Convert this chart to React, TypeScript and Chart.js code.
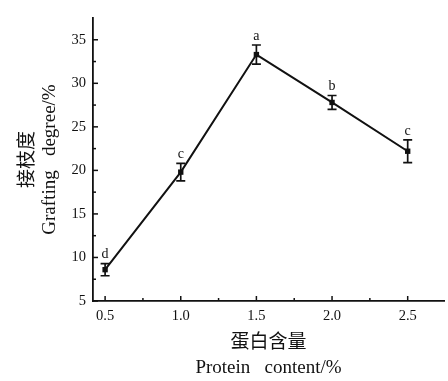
import React, { useEffect, useRef } from "react";
import { Chart, registerables } from "chart.js";

Chart.register(...registerables);

const proteinContent = [0.5, 1.0, 1.5, 2.0, 2.5];
const graftingDegree = [8.6, 19.8, 33.3, 27.8, 22.2];
const errorValues = [0.7, 1.0, 1.1, 0.8, 1.3];
const significanceLetters = ["d", "c", "a", "b", "c"];
const xTickValues = [0.5, 1.0, 1.5, 2.0, 2.5];
const yTickValues = [5, 10, 15, 20, 25, 30, 35];
const xTitleLines = ["蛋白含量", "Protein   content/%"];
const yTitleLines = ["接枝度", "Grafting   degree/%"];

const FONT = '"Liberation Serif", "Times New Roman", "Noto Sans CJK SC", serif';
const INK = "#111111";

const annotatePlugin = {
  id: "annotate",
  afterDatasetsDraw(chart: any) {
    const ctx = chart.ctx;
    const xs = chart.scales.x;
    const ys = chart.scales.y;
    const area = chart.chartArea;
    ctx.save();
    ctx.strokeStyle = INK;
    ctx.fillStyle = INK;
    // inward ticks
    ctx.lineWidth = 1.5;
    const xStep = xTickValues[1] - xTickValues[0];
    xTickValues.forEach((v: number) => {
      const px = xs.getPixelForValue(v);
      ctx.beginPath();
      ctx.moveTo(px, area.bottom);
      ctx.lineTo(px, area.bottom - 5);
      ctx.stroke();
      const m = v + xStep / 2;
      if (m < xs.max) {
        const pm = xs.getPixelForValue(m);
        ctx.beginPath();
        ctx.moveTo(pm, area.bottom);
        ctx.lineTo(pm, area.bottom - 3);
        ctx.stroke();
      }
    });
    const yStep = yTickValues[1] - yTickValues[0];
    yTickValues.forEach((v: number) => {
      const py = ys.getPixelForValue(v);
      ctx.beginPath();
      ctx.moveTo(area.left, py);
      ctx.lineTo(area.left + 5, py);
      ctx.stroke();
      const m = v + yStep / 2;
      if (m < ys.max) {
        const pm = ys.getPixelForValue(m);
        ctx.beginPath();
        ctx.moveTo(area.left, pm);
        ctx.lineTo(area.left + 3, pm);
        ctx.stroke();
      }
    });
    // error bars and letters
    ctx.lineWidth = 1.7;
    ctx.font = `14px ${FONT}`;
    ctx.textAlign = "center";
    ctx.textBaseline = "bottom";
    proteinContent.forEach((x: number, i: number) => {
      const px = xs.getPixelForValue(x);
      const top = ys.getPixelForValue(graftingDegree[i] + errorValues[i]);
      const bot = ys.getPixelForValue(graftingDegree[i] - errorValues[i]);
      ctx.beginPath();
      ctx.moveTo(px, top);
      ctx.lineTo(px, bot);
      ctx.moveTo(px - 4.5, top);
      ctx.lineTo(px + 4.5, top);
      ctx.moveTo(px - 4.5, bot);
      ctx.lineTo(px + 4.5, bot);
      ctx.stroke();
      ctx.fillText(significanceLetters[i], px, top - 2);
    });
    ctx.restore();
  },
};

export default function App() {
  const ref = useRef<HTMLCanvasElement | null>(null);
  useEffect(() => {
    if (!ref.current) return;
    const chart = new Chart(ref.current, {
      type: "line",
      data: {
        datasets: [
          {
            data: proteinContent.map((x, i) => ({ x, y: graftingDegree[i] })),
            borderColor: INK,
            backgroundColor: INK,
            borderWidth: 2,
            pointStyle: "rect",
            pointRadius: 3.8,
            pointBorderWidth: 0,
            tension: 0,
          },
        ],
      },
      options: {
        animation: false,
        responsive: false,
        layout: { padding: { top: 18, right: 3, left: 0, bottom: 0 } },
        plugins: { legend: { display: false }, tooltip: { enabled: false } },
        scales: {
          x: {
            type: "linear",
            min: 0.42,
            max: 2.74,
            afterBuildTicks: (s: any) => {
              s.ticks = xTickValues.map((v) => ({ value: v }));
            },
            afterFit: (s: any) => {
              s.height = 80;
            },
            grid: { display: false, drawTicks: false },
            border: { display: true, color: INK, width: 1.8 },
            ticks: {
              color: INK,
              padding: 6,
              font: { family: FONT, size: 14.5 },
              callback: (v: any) => Number(v).toFixed(1),
            },
            title: {
              display: true,
              text: xTitleLines,
              color: INK,
              font: { family: FONT, size: 19, lineHeight: 1.35 },
              padding: { top: 0, bottom: 0 },
            },
          },
          y: {
            type: "linear",
            min: 5,
            max: 37.5,
            afterBuildTicks: (s: any) => {
              s.ticks = yTickValues.map((v) => ({ value: v }));
            },
            afterFit: (s: any) => {
              s.width = 93;
            },
            grid: { display: false, drawTicks: false },
            border: { display: true, color: INK, width: 1.8 },
            ticks: {
              color: INK,
              padding: 7,
              font: { family: FONT, size: 14.5 },
            },
            title: {
              display: true,
              text: yTitleLines,
              color: INK,
              font: { family: FONT, size: 19, lineHeight: 1.15 },
              padding: { top: 17, bottom: 0 },
            },
          },
        },
      },
      plugins: [annotatePlugin],
    });
    return () => chart.destroy();
  }, []);
  return (
    <canvas
      ref={ref}
      width={448}
      height={381}
      style={{ position: "fixed", left: 0, top: 0, width: 448, height: 381 }}
    />
  );
}
